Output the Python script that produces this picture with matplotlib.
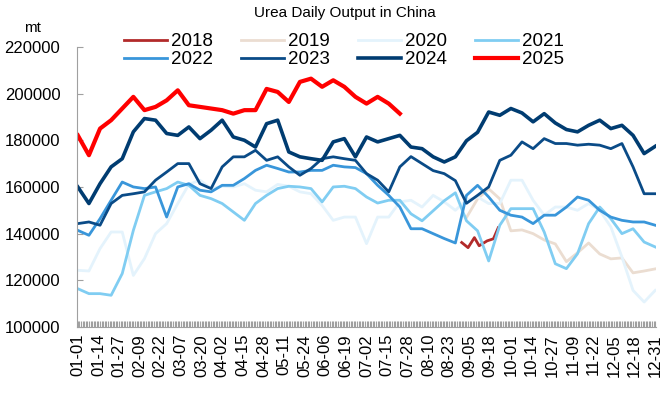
import matplotlib.pyplot as plt
import numpy as np
import pandas as pd

plt.rcParams["font.family"] = ["Liberation Sans", "DejaVu Sans"]

# day-of-year labels (non leap year) and weekly sample days
dates = pd.date_range("2023-01-01", periods=365).strftime("%m-%d")
week_days = np.arange(0, 365, 7)

# daily output, mt, read off the chart roughly once a week
y2018_days = [242, 246, 250, 253, 258, 262, 265]
y2018 = [136200, 134000, 138300, 134800, 136900, 137800, 142500]

y2019 = [146900, 154900, 159200, 154900, 141200, 141600, 140000, 137300, 135600,
         128000, 131800, 136000, 131300, 129200, 129600, 123200, 124000, 124900]

y2020 = [124300, 124000, 133600, 140700, 140700, 122100, 129300, 140000, 144300, 152900,
         161100, 162900, 159300, 160300, 160000, 161400, 158600, 157900, 161100, 160300,
         157900, 157100, 152100, 145700, 147100, 147100, 135700, 147100, 147100, 153600,
         154300, 151400, 156400, 153600, 150000, 154300, 155700, 152900, 152900, 162900,
         162900, 154300, 147900, 151400, 151400, 150000, 152900, 150000, 142900, 130000,
         115700, 110700, 115700]

y2021 = [116400, 114300, 114300, 113600, 122900, 141400, 156400, 157900, 159300, 162100,
         160700, 156400, 155000, 152900, 149300, 145700, 152900, 156400, 159300, 160300,
         160000, 159300, 153600, 160000, 160300, 159300, 155700, 153100, 154300, 154300,
         148500, 145500, 149800, 154100, 157500, 145500, 141200, 128300, 143600, 150700,
         150700, 150700, 140700, 127100, 125000, 131400, 144300, 151400, 146400, 140000,
         142100, 136400, 134300]

y2022 = [141400, 139300, 146400, 154300, 162100, 160000, 159300, 160000, 147100, 160000,
         161400, 158600, 157900, 160700, 160700, 163600, 167100, 169300, 167900, 166400,
         166400, 167100, 167100, 169300, 168600, 168300, 165700, 160700, 156400, 151400,
         142100, 142100, 140000, 137900, 136000, 156400, 160700, 155700, 150000, 147900,
         147100, 144300, 147900, 147900, 151400, 155700, 154300, 150000, 147100, 145700,
         145000, 145000, 143600]

y2023 = [144300, 145000, 143600, 152900, 156400, 157100, 157900, 162900, 166400, 170000,
         170000, 161400, 159300, 168600, 172900, 172900, 175700, 171400, 172900, 168600,
         165000, 167900, 172100, 172900, 172100, 171400, 165700, 162900, 157900, 168600,
         173000, 170000, 167000, 165700, 162700, 153000, 156400, 160000, 171400, 173600,
         179300, 176400, 180700, 178600, 178600, 177900, 178300, 177900, 176400, 178600,
         168600, 157100, 157100]

y2024 = [160000, 152900, 161400, 168600, 172100, 183600, 189300, 188600, 182900, 182100,
         185700, 180700, 184300, 188600, 181400, 180000, 177100, 187100, 188600, 175000,
         172900, 172100, 171400, 179300, 180700, 172900, 181400, 179300, 180700, 182100,
         177100, 176400, 172900, 170700, 172900, 179800, 183400, 192100, 190700, 193600,
         191700, 187900, 191400, 187400, 184600, 183600, 186400, 188600, 185000, 186400,
         182100, 174300, 177400]

y2025 = [182100, 173600, 185000, 188600, 193600, 198600, 192900, 194300, 197100, 201400,
         195000, 194300, 193600, 192900, 191400, 192900, 192900, 202000, 200700, 196400,
         205000, 206400, 202900, 205700, 202900, 198600, 195700, 198600, 195700, 191400]

fig = plt.figure(figsize=(6.71, 3.94), dpi=100)
ax = fig.add_axes([0.1148, 0.170, 0.8629, 0.711])

l18, = ax.plot(y2018_days, y2018, color="#B22A2A", lw=2.0, label="2018")
l19, = ax.plot(week_days[-len(y2019):], y2019, color="#EBDDD1", lw=2.0, label="2019")
l20, = ax.plot(week_days, y2020, color="#E4F3FC", lw=2.0, label="2020")
l21, = ax.plot(week_days, y2021, color="#80CDF2", lw=2.0, label="2021")
l22, = ax.plot(week_days, y2022, color="#3996DA", lw=2.0, label="2022")
l23, = ax.plot(week_days, y2023, color="#0A4B87", lw=2.0, label="2023")
l24, = ax.plot(week_days, y2024, color="#003C71", lw=2.6, label="2024")
l25, = ax.plot(week_days[:len(y2025)], y2025, color="#FF0000", lw=3.0, label="2025")

ax.set_xlim(-0.5, 364.5)
ax.set_ylim(100000, 220000)
ax.set_yticks(range(100000, 220001, 20000))
ax.set_xticks(range(0, 365, 13))
ax.set_xticklabels(dates[::13], rotation=90, fontsize=12)
ax.set_xticks(range(365), minor=True)
ax.tick_params(axis="x", which="both", direction="in", length=4, width=0.8,
               color="#A0A0A0", pad=5)
ax.tick_params(axis="y", direction="in", length=4, width=0.8, color="#A0A0A0",
               labelsize=12, pad=12)
for s in ["top", "right"]:
    ax.spines[s].set_visible(False)
for s in ["left", "bottom"]:
    ax.spines[s].set_color("#A0A0A0")

fig.text(0.514, 0.967, "Urea Daily Output in China", ha="center", va="center", fontsize=11)
fig.text(0.049, 0.929, "mt", ha="center", va="center", fontsize=11)

# matplotlib fills legend columns first, so interleave to get two rows of four
handles = [l18, l22, l19, l23, l20, l24, l21, l25]
fig.legend(handles=handles, labels=[h.get_label() for h in handles], ncol=4,
           loc="center", bbox_to_anchor=(0.513, 0.871), frameon=False,
           fontsize=13.5, handlelength=2.3, handletextpad=0.2,
           columnspacing=1.5, labelspacing=0.05, borderpad=0)

fig.savefig("out.png", dpi=100)
